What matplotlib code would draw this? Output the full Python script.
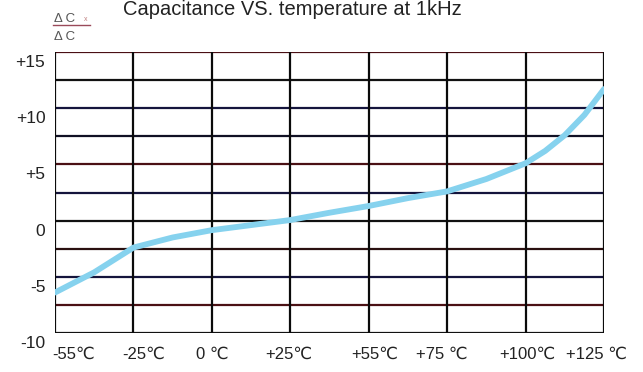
import numpy as np
import matplotlib.pyplot as plt
from matplotlib.transforms import ScaledTranslation

# temperature categories (equally spaced on the chart)
temps = ['-55℃', '-25℃', '0 ℃', '+25℃', '+55℃', '+75 ℃', '+100℃', '+125 ℃']
yticks = [15, 10, 5, 0, -5, -10]
ytick_labels = ['+15', '+10', '+5', '0', '-5', '-10']
hlines = [15, 12.5, 10, 7.5, 5, 2.5, 0, -2.5, -5, -7.5, -10]
hline_colors = ['#4a0f14', '#111111', '#14143c', '#101024', '#4a1014', '#14143c',
                '#111111', '#2a1010', '#14143c', '#4a1014', '#111111']

# curve (x in category steps, y in %)
curve_x = [0.0, 0.25, 0.5, 0.75, 1.0, 1.25, 1.5, 2.0, 2.5, 3.0, 3.5, 4.0,
           4.5, 5.0, 5.5, 6.0, 6.25, 6.5, 6.75, 7.0]
curve_y = [-6.4, -5.5, -4.6, -3.5, -2.4, -1.95, -1.5, -0.85, -0.4, 0.05, 0.7, 1.3,
           2.0, 2.6, 3.7, 5.1, 6.2, 7.6, 9.4, 11.7]

font = ['Liberation Sans', 'DejaVu Sans']

fig = plt.figure(figsize=(6.43, 3.72), dpi=100)
ax = fig.add_axes([55/643, 1-333/372, (604-55)/643, (333-52)/372])

for yv, c in zip(hlines, hline_colors):
    ax.axhline(yv, color=c, lw=1.6, zorder=1)
for i in range(len(temps)):
    ax.axvline(i, color='#0a0a0a', lw=1.6, zorder=1)

ax.plot(curve_x, curve_y, color='#86d2ee', lw=4.2, solid_capstyle='round',
        solid_joinstyle='round', zorder=3)

ax.set_xlim(0, len(temps)-1)
ax.set_ylim(-10, 15)
for s in ax.spines.values():
    s.set_visible(False)

ax.set_yticks(yticks)
ax.set_yticklabels(ytick_labels, family=font, fontsize=12.5, color='#222222')
ax.set_xticks(range(len(temps)))
ax.set_xticklabels(temps, family=font, fontsize=12, color='#222222')
ax.tick_params(length=0)
ax.tick_params(axis='y', pad=7)
ax.tick_params(axis='x', pad=10)

for lab in ax.get_yticklabels():
    lab.set_transform(lab.get_transform() + ScaledTranslation(0, -0.09, fig.dpi_scale_trans))
x_shift = [19, 10, 0, -2, 6, -5, 2, -8]
for lab, dx in zip(ax.get_xticklabels(), x_shift):
    lab.set_transform(lab.get_transform() + ScaledTranslation(dx/100, 0, fig.dpi_scale_trans))

fig.text(123/643, 1-15/372, 'Capacitance VS. temperature at 1kHz', family=font,
         fontsize=14.5, ha='left', va='baseline', color='#222222')

# delta C / C label
fig.text(54/643, 1-22/372, 'Δ C', family=font, fontsize=9.5, ha='left',
         va='baseline', color='#555555')
fig.text(84/643, 1-21/372, 'x', family=font, fontsize=5, ha='left',
         va='baseline', color='#c08080')
fig.lines.append(plt.Line2D([53/643, 90/643], [1-24.5/372, 1-24.5/372],
                            color='#9a4a5a', lw=1.0, transform=fig.transFigure))
fig.text(54/643, 1-40/372, 'Δ C', family=font, fontsize=9.5, ha='left',
         va='baseline', color='#555555')

fig.savefig('out.png', dpi=100)
